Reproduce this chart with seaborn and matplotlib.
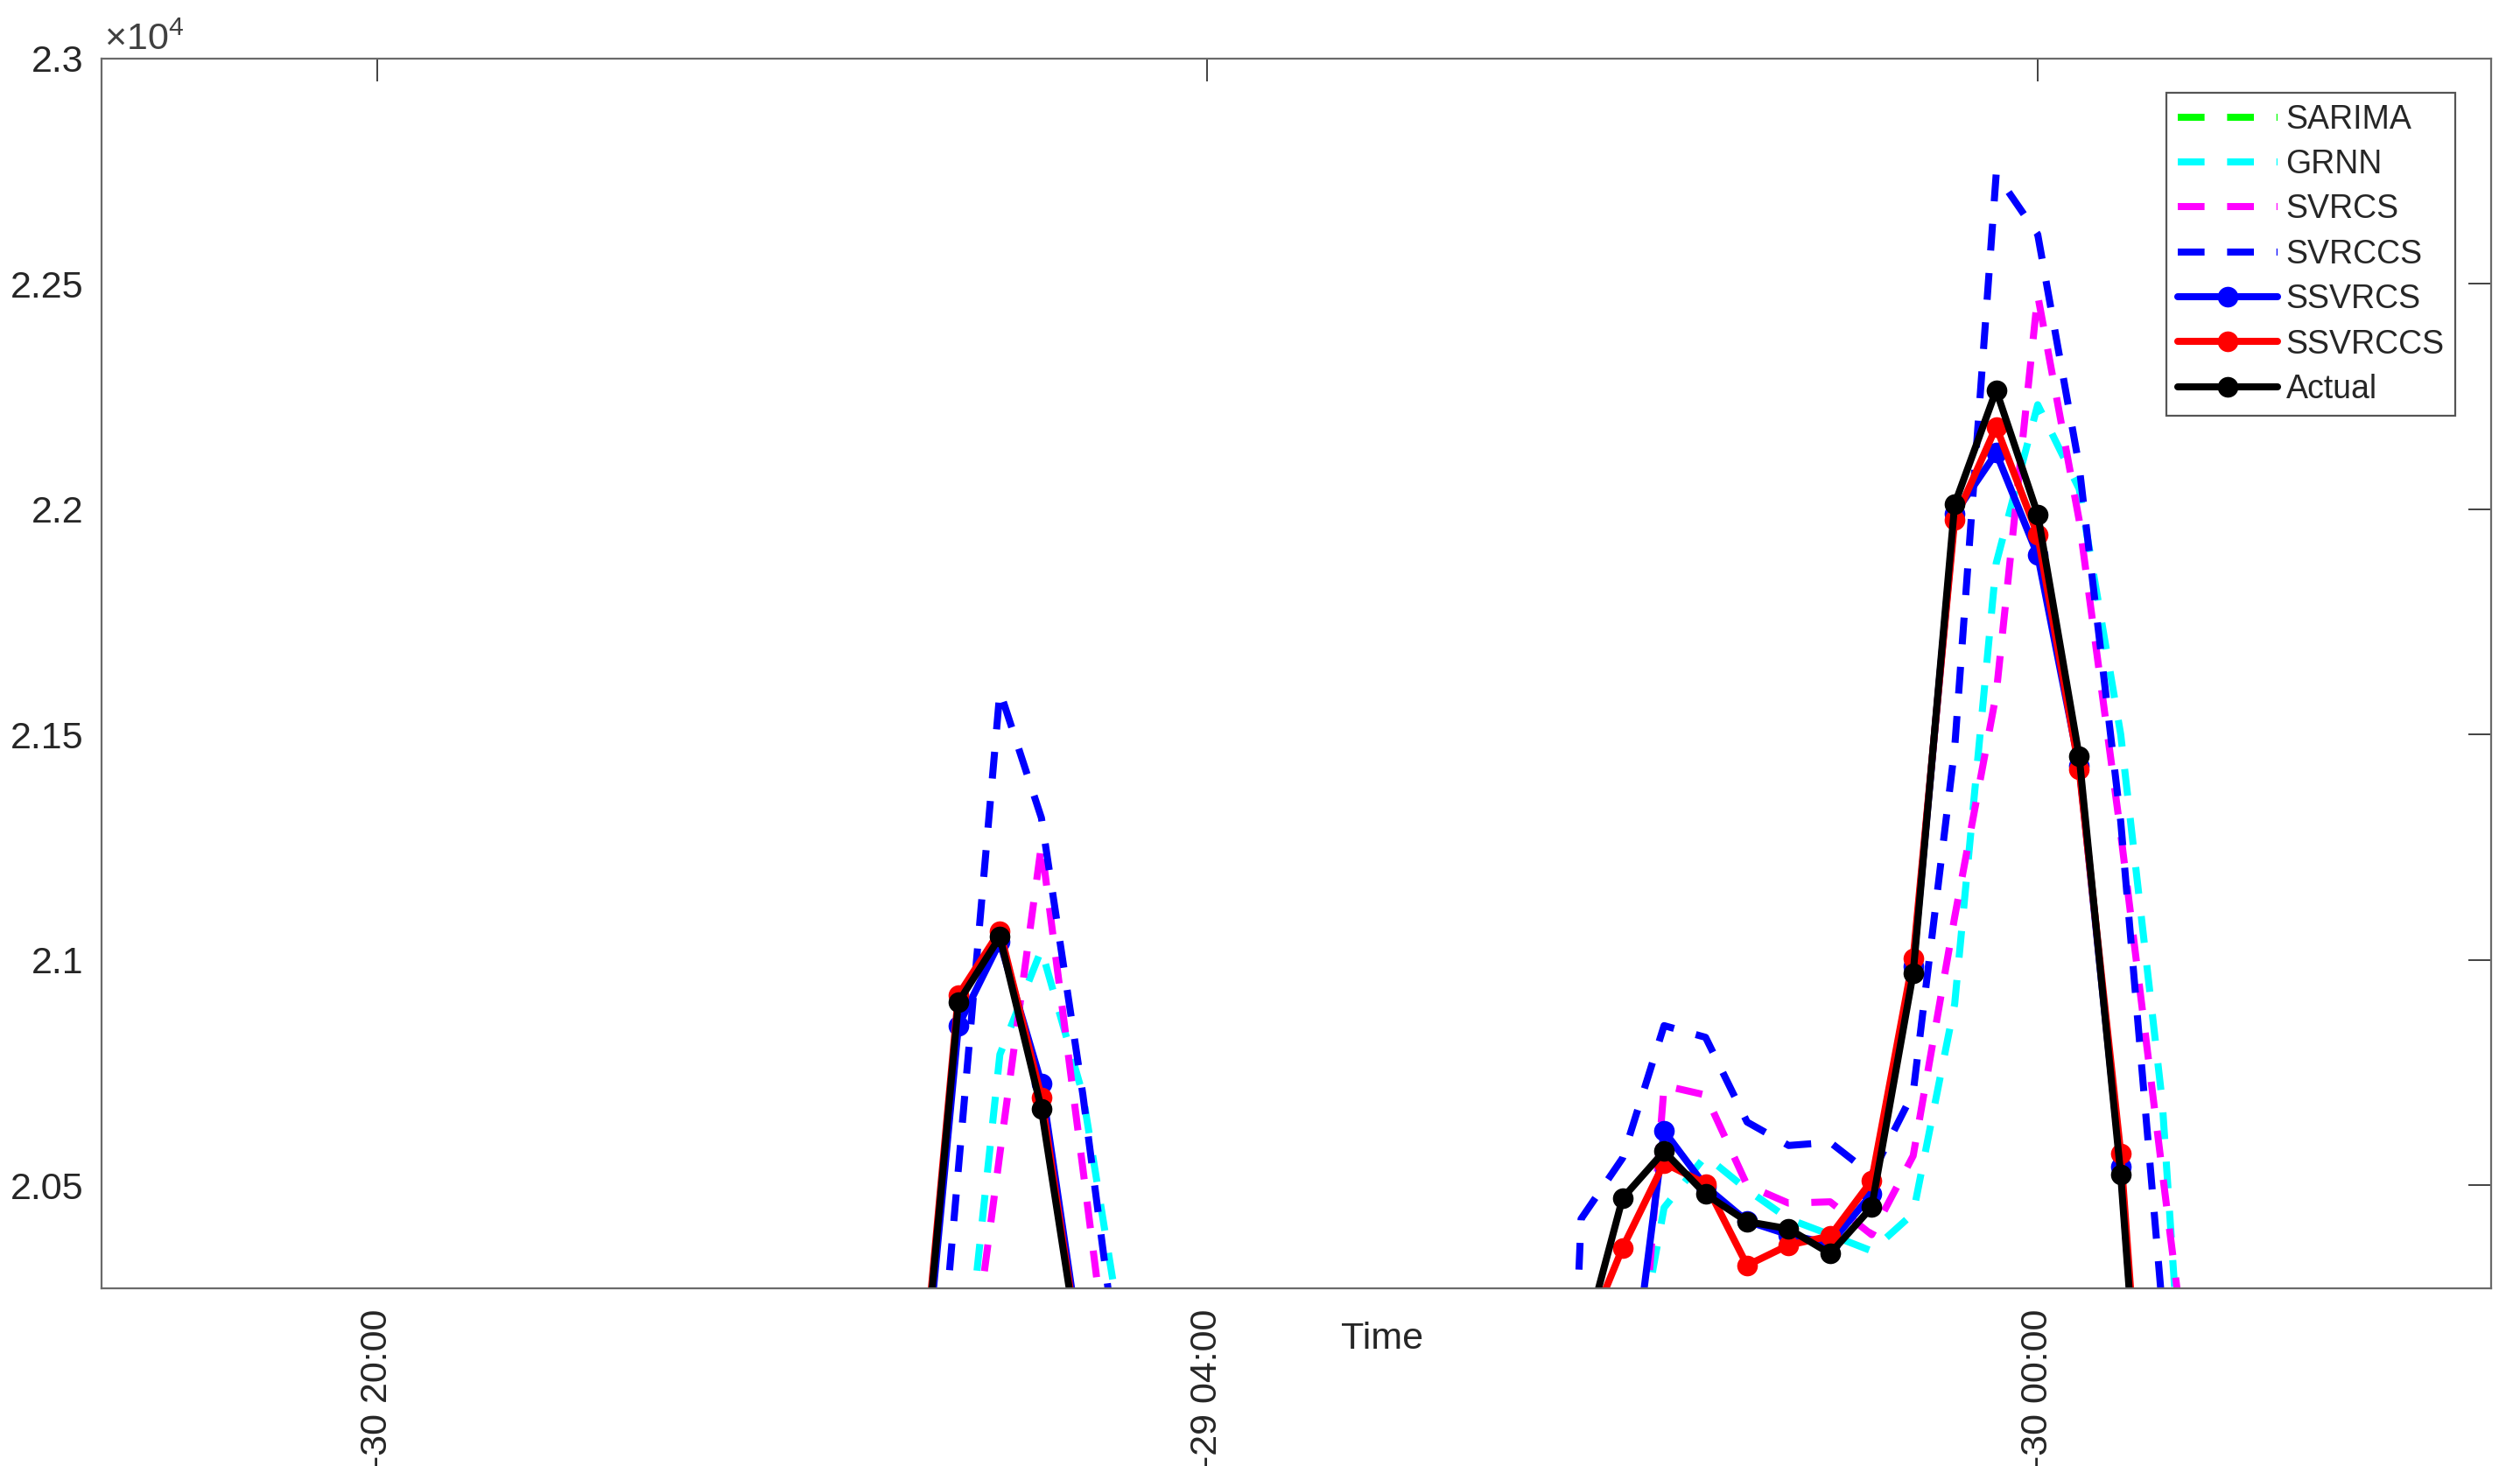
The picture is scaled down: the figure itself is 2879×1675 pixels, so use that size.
import matplotlib
matplotlib.use("Agg")
import matplotlib.pyplot as plt
from matplotlib.ticker import FixedLocator, FuncFormatter
import seaborn as sns

# sample index (only two windows of the series fall inside the zoomed view)
steps = [13, 14, 15, 16, 17, 18,
         28, 29, 30, 31, 32, 33, 34, 35, 36, 37, 38, 39, 40, 41, 42, 43, 44]

# forecasts / actual load (values below 2.027e4 are off the zoomed axis)
sarima = [19200, 19500, 19800, 20000, 19700, 19400,
          19000, 19300, 19600, 19900, 20050, 20000, 19950, 19900, 19850,
          19950, 20100, 20200, 20150, 19900, 19600, 19300, 19100]
grnn = [19300, 19920, 20790, 21023, 20700, 20130,
        19000, 19300, 19940, 20450, 20565, 20490, 20425, 20390, 20354,
        20437, 20902, 21880, 22232, 22045, 21500, 20685, 19300]
svrcs = [19000, 19870, 20570, 21255, 20536, 19806,
         18800, 19000, 19550, 20721, 20700, 20500, 20460, 20463, 20390,
         20565, 21095, 21590, 22475, 21975, 21280, 20530, 19800]
svrccs = [19475, 20536, 21596, 21315, 20700, 19990,
          18200, 20425, 20560, 20854, 20828, 20640, 20588, 20595, 20523,
          20705, 21470, 22744, 22610, 22095, 21307, 20230, 19500]
ssvrcs = [19880, 20854, 21040, 20726, 20100, 19700,
          19300, 19500, 19893, 20620, 20497, 20420, 20390, 20370, 20480,
          20985, 21990, 22125, 21898, 21430, 20540, 19280, 19000]
ssvrccs = [19920, 20922, 21064, 20695, 20080, 19700,
           19600, 20136, 20361, 20549, 20503, 20322, 20367, 20387, 20510,
           21003, 21976, 22183, 21943, 21422, 20571, 19300, 19000]
actual = [19900, 20906, 21051, 20669, 20075, 19700,
          19600, 20125, 20471, 20575, 20480, 20419, 20403, 20348, 20451,
          20970, 22011, 22264, 21989, 21451, 20523, 19270, 19000]

tick_steps = [0, 20, 40]
tick_labels = ["-30 20:00", "-29 04:00", "-30 00:00"]
y_ticks = [20500, 21000, 21500, 22000, 22500, 23000]

sns.set_style("white")
plt.rcParams["font.family"] = ["Liberation Sans", "DejaVu Sans"]
plt.rcParams["mathtext.fontset"] = "custom"
plt.rcParams["mathtext.rm"] = "Liberation Sans"
plt.rcParams["mathtext.default"] = "regular"

fig = plt.figure(figsize=(28.79, 16.75), dpi=100)
ax = fig.add_axes([0.0403, 0.1212, 0.9482, 0.8388])

dash = (0, (3.8, 3.2))
series = [
    ("SARIMA", sarima, "#00ff00", dash, None),
    ("GRNN", grnn, "#00ffff", dash, None),
    ("SVRCS", svrcs, "#ff00ff", dash, None),
    ("SVRCCS", svrccs, "#0000ff", dash, None),
    ("SSVRCS", ssvrcs, "#0000ff", "-", "o"),
    ("SSVRCCS", ssvrccs, "#ff0000", "-", "o"),
    ("Actual", actual, "#000000", "-", "o"),
]

for name, vals, col, ls, mk in series:
    sns.lineplot(x=steps, y=vals, ax=ax, color=col, linestyle=ls,
                 linewidth=5.8, marker=mk, markersize=17,
                 markeredgecolor=col, markeredgewidth=0, label=name)

ax.set_xlim(-6.64, 50.92)
ax.set_ylim(20271, 23000)

ax.xaxis.set_major_locator(FixedLocator(tick_steps))
ax.set_xticklabels(tick_labels, rotation=90, va="top", ha="center")
ax.yaxis.set_major_locator(FixedLocator(y_ticks))
ax.yaxis.set_major_formatter(FuncFormatter(lambda v, p: f"{v / 1e4:g}"))

ax.tick_params(axis="both", direction="in", length=19, width=1.3,
               color="#333333", labelcolor="#262626", labelsize=31,
               top=True, right=True)
ax.tick_params(axis="x", pad=17)
ax.tick_params(axis="y", pad=15)
for sp in ax.spines.values():
    sp.set_color("#6a6a6a")
    sp.set_linewidth(1.6)

ax.set_xlabel("Time", fontsize=31, color="#262626")
ax.xaxis.set_label_coords(0.536, -0.041)
ax.xaxis.label.set_va("center")
ax.set_ylabel("")

ax.text(0.001, 1.007, "×10$^{4}$", transform=ax.transAxes, fontsize=31,
        color="#404040", ha="left", va="baseline")

leg = ax.legend(loc="upper right", bbox_to_anchor=(0.985, 0.972),
                borderaxespad=0, fontsize=27, handlelength=3.05,
                handletextpad=0.25, labelspacing=0.41, borderpad=0.33,
                fancybox=False, framealpha=1)
leg.get_frame().set_edgecolor("#555555")
leg.get_frame().set_linewidth(1.6)
for t in leg.get_texts():
    t.set_color("#262626")

fig.savefig("out.png", dpi=100)
